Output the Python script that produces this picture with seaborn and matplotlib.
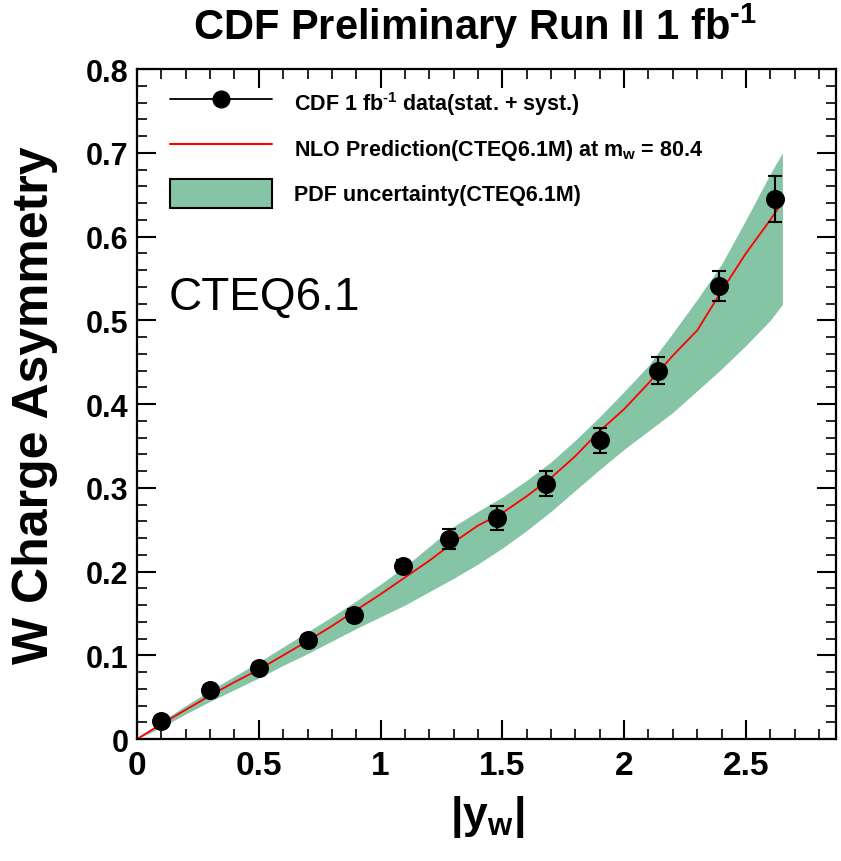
import matplotlib
matplotlib.use("Agg")
import matplotlib.pyplot as plt
from matplotlib.lines import Line2D
from matplotlib.patches import Patch
from matplotlib.ticker import MultipleLocator, FuncFormatter
import seaborn as sns

# --- CDF data points (|y_W|, asymmetry, total error) ---
cdf_x = [0.10, 0.30, 0.50, 0.70, 0.89, 1.09, 1.28, 1.48, 1.68, 1.90, 2.14, 2.39, 2.62]
cdf_y = [0.022, 0.058, 0.085, 0.118, 0.148, 0.207, 0.239, 0.264, 0.305, 0.357, 0.440, 0.541, 0.645]
cdf_err = [0.006, 0.006, 0.006, 0.006, 0.007, 0.007, 0.012, 0.014, 0.015, 0.015, 0.016, 0.018, 0.027]

# --- NLO prediction (CTEQ6.1M) ---
nlo_x = [0.0, 0.1, 0.2, 0.3, 0.4, 0.5, 0.6, 0.7, 0.8, 0.9, 1.0, 1.1, 1.2, 1.3,
         1.4, 1.5, 1.6, 1.7, 1.8, 1.9, 2.0, 2.1, 2.2, 2.3, 2.4, 2.5, 2.6, 2.64]
nlo_y = [0.0, 0.018, 0.035, 0.052, 0.068, 0.083, 0.100, 0.117, 0.135, 0.154,
         0.173, 0.193, 0.213, 0.235, 0.255, 0.270, 0.290, 0.312, 0.338, 0.368,
         0.394, 0.425, 0.458, 0.488, 0.535, 0.580, 0.620, 0.637]

# --- PDF uncertainty band ---
band_x = [0.0, 0.1, 0.2, 0.3, 0.4, 0.5, 0.6, 0.7, 0.8, 0.9, 1.0, 1.1, 1.2, 1.3,
          1.4, 1.5, 1.6, 1.7, 1.8, 1.9, 2.0, 2.1, 2.2, 2.3, 2.4, 2.5, 2.6, 2.65]
band_lo = [0.0, 0.014, 0.030, 0.045, 0.059, 0.073, 0.088, 0.102, 0.117, 0.132,
           0.146, 0.160, 0.176, 0.192, 0.209, 0.228, 0.249, 0.272, 0.297, 0.322,
           0.346, 0.368, 0.390, 0.416, 0.442, 0.470, 0.500, 0.519]
band_hi = [0.0, 0.021, 0.040, 0.058, 0.075, 0.092, 0.110, 0.128, 0.146, 0.165,
           0.185, 0.206, 0.230, 0.254, 0.272, 0.289, 0.309, 0.331, 0.357, 0.385,
           0.415, 0.446, 0.485, 0.525, 0.567, 0.620, 0.675, 0.700]

GREEN = "#85c4a5"

sns.set_theme(style="ticks")
plt.rcParams["font.family"] = ["Liberation Sans", "DejaVu Sans"]
plt.rcParams["font.weight"] = "bold"
plt.rcParams["text.color"] = "black"
plt.rcParams["axes.labelcolor"] = "black"
plt.rcParams["xtick.color"] = "black"
plt.rcParams["ytick.color"] = "black"
plt.rcParams["mathtext.fontset"] = "custom"
plt.rcParams["mathtext.rm"] = "Liberation Sans:bold"
plt.rcParams["mathtext.it"] = "Liberation Sans:bold"
plt.rcParams["mathtext.bf"] = "Liberation Sans:bold"

fig = plt.figure(figsize=(8.41, 8.62), dpi=100)
ax = fig.add_axes([0.163, 0.1415, 0.831, 0.777])

ax.fill_between(band_x, band_lo, band_hi, color=GREEN, lw=0, zorder=1)
sns.lineplot(x=nlo_x, y=nlo_y, color="red", lw=1.3, sort=False,
             estimator=None, ax=ax, zorder=2)
ax.errorbar(cdf_x, cdf_y, yerr=cdf_err, fmt="none", ecolor="black",
            elinewidth=1.5, capsize=5, capthick=1.5, zorder=3)
sns.scatterplot(x=cdf_x, y=cdf_y, color="black", edgecolor="black", s=160,
                ax=ax, zorder=4)

ax.set_xlim(0, 2.87)
ax.set_ylim(0, 0.8)
ax.xaxis.set_major_locator(MultipleLocator(0.5))
ax.xaxis.set_minor_locator(MultipleLocator(0.1))
ax.yaxis.set_major_locator(MultipleLocator(0.1))
ax.yaxis.set_minor_locator(MultipleLocator(0.02))
fmt = FuncFormatter(lambda v, _: f"{round(v, 2):g}")
ax.xaxis.set_major_formatter(fmt)
ax.yaxis.set_major_formatter(fmt)

ax.tick_params(which="both", direction="in", top=True, right=True,
               color="black", labelcolor="black")
ax.tick_params(which="major", length=14, width=1.5)
ax.tick_params(which="minor", length=7, width=1.2)
ax.tick_params(axis="x", labelsize=24, pad=8)
ax.tick_params(axis="y", labelsize=22, pad=6)
for s in ax.spines.values():
    s.set_linewidth(1.6)
    s.set_color("black")
ax.set_xlabel("")
ax.set_ylabel("")

# legend (ROOT-like, no frame)
handles = [
    Line2D([], [], color="black", lw=1.3, marker="o", markersize=12),
    Line2D([], [], color="red", lw=1.5),
    Patch(facecolor=GREEN, edgecolor="black", lw=1.5),
]
labels = [
    r"CDF 1 fb$^{\text{-1}}$ data(stat. + syst.)",
    "NLO Prediction(CTEQ6.1M) at m$_{w}$ = 80.4",
    "PDF uncertainty(CTEQ6.1M)",
]
ax.legend(handles, labels, loc="upper left", bbox_to_anchor=(0.047, 0.972),
          frameon=False, fontsize=15.5, handlelength=4.75, handleheight=1.7,
          handletextpad=1.0, labelspacing=0.76, borderaxespad=0, borderpad=0)

ax.text(0.045, 0.642, "CTEQ6.1", transform=ax.transAxes, fontsize=33,
        fontweight="normal", ha="left", va="baseline")

fig.text(0.565, 0.969, r"CDF Preliminary Run II 1 fb$^{\text{-1}}$", fontsize=30,
         ha="center", va="center")
fig.text(0.042, 0.53, "W Charge Asymmetry", fontsize=36, rotation=90,
         ha="center", va="center")
fig.text(0.579, 0.052, "|y$_{w}$|", fontsize=32, ha="center", va="center")

fig.savefig("out.png", dpi=100)
